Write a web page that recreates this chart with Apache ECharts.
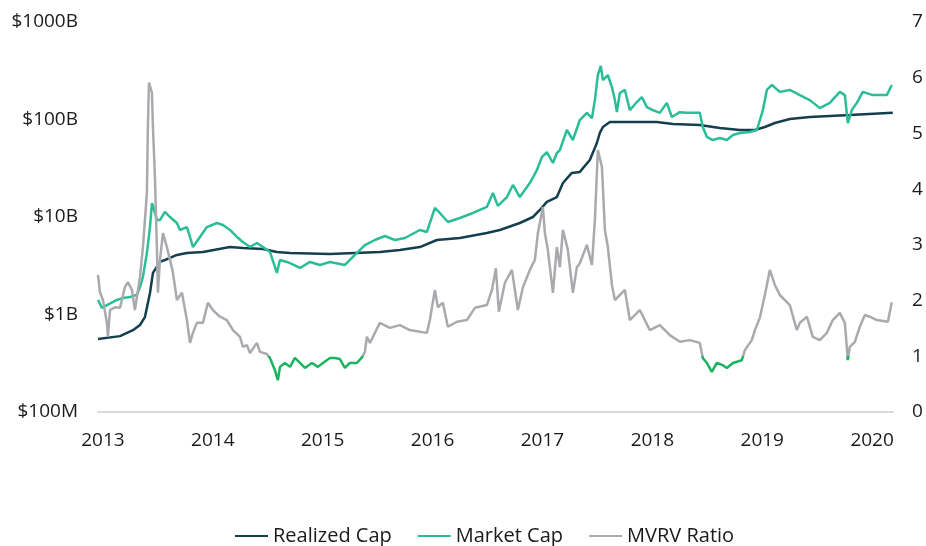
<!DOCTYPE html>
<html>
<head>
<meta charset="utf-8">
<script src="https://cdn.jsdelivr.net/npm/echarts@6/dist/echarts.min.js"></script>
<style>
  html, body { margin: 0; padding: 0; background: #fff; }
  #chart { width: 926px; height: 546px; }
</style>
</head>
<body>
<div id="chart"></div>
<script>
// [fractional year, $ billions]
var realizedCap = [
  [2012.955, 0.56], [2013.155, 0.60], [2013.273, 0.69], [2013.337, 0.78], [2013.382, 0.94],
  [2013.428, 1.66], [2013.455, 2.67], [2013.519, 3.46], [2013.61, 3.80], [2013.673, 4.08],
  [2013.764, 4.27], [2013.91, 4.38], [2014.156, 4.92], [2014.274, 4.81], [2014.456, 4.70],
  [2014.583, 4.38], [2014.702, 4.27], [2015.066, 4.18], [2015.52, 4.38], [2015.702, 4.59],
  [2015.884, 4.92], [2016.039, 5.81], [2016.248, 6.09], [2016.494, 6.86], [2016.612, 7.36],
  [2016.794, 8.68], [2016.913, 10.0], [2016.976, 11.8], [2017.04, 14.3], [2017.131, 16.0],
  [2017.186, 22.3], [2017.267, 28.3], [2017.34, 29.0], [2017.431, 38.4], [2017.495, 57.4],
  [2017.522, 72.8], [2017.55, 83.8], [2017.613, 94.3], [2018.041, 94.3], [2018.187, 89.9],
  [2018.432, 87.9], [2018.614, 81.8], [2018.796, 78.0], [2018.933, 78.0], [2019.024, 83.8],
  [2019.115, 92.0], [2019.251, 101], [2019.433, 106], [2019.797, 111], [2020.188, 117]
];

var marketCap = [
  [2012.955, 1.41], [2012.991, 1.17], [2013.036, 1.25], [2013.127, 1.41], [2013.182, 1.48],
  [2013.246, 1.51], [2013.309, 1.59], [2013.337, 1.91], [2013.364, 2.43], [2013.4, 4.27],
  [2013.428, 7.89], [2013.446, 13.9], [2013.455, 13.0], [2013.491, 9.31], [2013.519, 9.31],
  [2013.564, 11.3], [2013.61, 10.0], [2013.673, 8.68], [2013.701, 7.36], [2013.764, 7.89],
  [2013.792, 6.24], [2013.819, 4.92], [2013.883, 6.24], [2013.946, 7.89], [2014.037, 8.68],
  [2014.092, 8.28], [2014.156, 7.36], [2014.219, 6.24], [2014.274, 5.54], [2014.338, 4.92],
  [2014.401, 5.41], [2014.456, 4.92], [2014.52, 4.38], [2014.583, 2.67], [2014.611, 3.62],
  [2014.674, 3.46], [2014.702, 3.37], [2014.793, 3.0], [2014.884, 3.46], [2014.975, 3.22],
  [2015.066, 3.46], [2015.202, 3.22], [2015.293, 4.08], [2015.384, 5.16], [2015.475, 5.81],
  [2015.566, 6.38], [2015.657, 5.81], [2015.748, 6.09], [2015.884, 7.36], [2015.948, 7.02],
  [2016.021, 12.4], [2016.066, 11.0], [2016.139, 8.89], [2016.248, 9.77], [2016.367, 11.0],
  [2016.494, 12.7], [2016.549, 17.6], [2016.594, 13.0], [2016.676, 16.0], [2016.731, 21.3],
  [2016.794, 16.0], [2016.885, 22.3], [2016.949, 30.3], [2016.995, 41.2], [2017.04, 46.4],
  [2017.095, 35.8], [2017.131, 45.3], [2017.158, 48.6], [2017.222, 78.0], [2017.277, 61.6],
  [2017.34, 98.8], [2017.404, 117], [2017.45, 103], [2017.477, 158], [2017.504, 286],
  [2017.531, 354], [2017.55, 254], [2017.595, 286], [2017.632, 215], [2017.659, 158],
  [2017.677, 119], [2017.704, 187], [2017.75, 201], [2017.795, 125], [2017.859, 151],
  [2017.904, 170], [2017.95, 134], [2018.005, 125], [2018.068, 117], [2018.132, 148],
  [2018.177, 106], [2018.25, 119], [2018.314, 117], [2018.432, 117], [2018.459, 83.8],
  [2018.496, 66.2], [2018.55, 61.6], [2018.614, 64.6], [2018.678, 61.6], [2018.733, 69.4],
  [2018.796, 72.8], [2018.887, 74.5], [2018.951, 78.0], [2019.006, 125], [2019.042, 201],
  [2019.088, 226], [2019.16, 192], [2019.251, 201], [2019.342, 178], [2019.433, 158],
  [2019.524, 131], [2019.615, 148], [2019.706, 192], [2019.752, 178], [2019.779, 92.0],
  [2019.815, 125], [2019.861, 148], [2019.915, 192], [2020.006, 178], [2020.134, 178],
  [2020.179, 226]
];

// [fractional year, ratio]
var mvrvRatio = [
  [2012.955, 2.46], [2012.973, 2.15], [2013.0, 2.01], [2013.036, 1.60], [2013.045, 1.35],
  [2013.064, 1.83], [2013.109, 1.88], [2013.155, 1.87], [2013.2, 2.24], [2013.227, 2.33],
  [2013.264, 2.19], [2013.291, 1.83], [2013.337, 2.42], [2013.364, 2.96], [2013.4, 3.93],
  [2013.409, 5.12], [2013.419, 5.91], [2013.446, 5.73], [2013.455, 5.12], [2013.473, 4.22],
  [2013.491, 2.96], [2013.5, 2.14], [2013.519, 2.73], [2013.546, 3.21], [2013.582, 2.96],
  [2013.61, 2.73], [2013.637, 2.50], [2013.673, 2.01], [2013.719, 2.14], [2013.764, 1.65],
  [2013.792, 1.24], [2013.819, 1.42], [2013.855, 1.60], [2013.91, 1.60], [2013.955, 1.96],
  [2014.001, 1.83], [2014.065, 1.71], [2014.128, 1.65], [2014.183, 1.47], [2014.247, 1.35],
  [2014.274, 1.17], [2014.31, 1.20], [2014.338, 1.06], [2014.401, 1.24], [2014.429, 1.08],
  [2014.492, 1.04], [2014.52, 0.97], [2014.538, 0.96], [2014.565, 0.75], [2014.592, 0.57],
  [2014.611, 0.81], [2014.656, 0.88], [2014.702, 0.81], [2014.747, 0.97], [2014.793, 0.88],
  [2014.838, 0.79], [2014.902, 0.88], [2014.956, 0.81], [2015.002, 0.88], [2015.066, 0.97],
  [2015.111, 0.97], [2015.157, 0.95], [2015.202, 0.79], [2015.247, 0.88], [2015.311, 0.88],
  [2015.357, 0.98], [2015.384, 1.08], [2015.402, 1.35], [2015.43, 1.24], [2015.475, 1.42],
  [2015.52, 1.60], [2015.611, 1.51], [2015.702, 1.56], [2015.793, 1.47], [2015.884, 1.44],
  [2015.948, 1.42], [2015.975, 1.65], [2016.021, 2.19], [2016.048, 1.88], [2016.094, 1.96],
  [2016.139, 1.53], [2016.221, 1.62], [2016.312, 1.65], [2016.385, 1.87], [2016.494, 1.92],
  [2016.54, 2.19], [2016.576, 2.58], [2016.603, 1.80], [2016.658, 2.32], [2016.722, 2.55],
  [2016.776, 1.83], [2016.822, 2.24], [2016.885, 2.55], [2016.931, 2.73], [2016.958, 3.21],
  [2017.004, 3.68], [2017.022, 3.21], [2017.049, 2.91], [2017.095, 2.14], [2017.131, 2.96],
  [2017.158, 2.60], [2017.186, 3.27], [2017.231, 2.91], [2017.277, 2.14], [2017.313, 2.60],
  [2017.34, 2.67], [2017.404, 3.0], [2017.45, 2.64], [2017.477, 3.45], [2017.504, 4.70],
  [2017.541, 4.40], [2017.568, 3.27], [2017.595, 2.96], [2017.632, 2.28], [2017.659, 2.01],
  [2017.704, 2.10], [2017.75, 2.19], [2017.795, 1.65], [2017.886, 1.83], [2017.977, 1.47],
  [2018.068, 1.56], [2018.159, 1.38], [2018.25, 1.26], [2018.341, 1.29], [2018.432, 1.24],
  [2018.459, 0.97], [2018.496, 0.88], [2018.541, 0.72], [2018.587, 0.88], [2018.641, 0.84],
  [2018.678, 0.79], [2018.733, 0.88], [2018.814, 0.93], [2018.842, 1.11], [2018.905, 1.29],
  [2018.933, 1.47], [2018.978, 1.69], [2019.024, 2.10], [2019.069, 2.55], [2019.115, 2.28],
  [2019.16, 2.10], [2019.251, 1.92], [2019.315, 1.47], [2019.342, 1.60], [2019.406, 1.71],
  [2019.46, 1.35], [2019.524, 1.29], [2019.588, 1.42], [2019.642, 1.65], [2019.706, 1.78],
  [2019.752, 1.60], [2019.779, 0.93], [2019.797, 1.17], [2019.843, 1.26], [2019.888, 1.53],
  [2019.934, 1.74], [2019.979, 1.71], [2020.043, 1.65], [2020.143, 1.62], [2020.179, 1.97]
];

var seriesNames = ['Realized Cap', 'Market Cap', 'MVRV Ratio'];
var seriesColors = ['#143f4e', '#2bbd98', '#a9aaae'];
var belowOneColor = '#19b45e';

var font = 'Open Sans';
var myChart = echarts.init(document.getElementById('chart'));
myChart.setOption({
  animation: false,
  textStyle: { fontFamily: font },
  grid: { left: 98, right: 33, top: 22, bottom: 134 },
  legend: {
    left: 230,
    top: 521,
    itemWidth: 33,
    itemHeight: 2,
    itemGap: 26,
    icon: 'rect',
    textStyle: { fontSize: 20, color: '#1a1a1a', fontFamily: font },
    data: seriesNames
  },
  // MVRV below 1 is drawn green; finite bounds so the gradient gets real stops
  visualMap: {
    show: false,
    type: 'piecewise',
    seriesIndex: 2,
    dimension: 1,
    pieces: [
      { gte: -10, lt: 1, color: belowOneColor },
      { gte: 1, lte: 100, color: seriesColors[2] }
    ]
  },
  xAxis: {
    type: 'value',
    min: 2012.955,
    max: 2020.19,
    splitNumber: 7,
    splitLine: { show: false },
    axisTick: { show: false },
    axisLine: { lineStyle: { color: '#dadada', width: 2 } },
    axisLabel: {
      margin: 19,
      fontSize: 19,
      color: '#1a1a1a',
      showMinLabel: false,
      showMaxLabel: false,
      formatter: function (v) {
        return Math.abs(v - Math.round(v)) < 1e-6 ? String(Math.round(v)) : '';
      }
    }
  },
  yAxis: [
    {
      type: 'log',
      logBase: 10,
      min: 0.1,
      max: 1000,
      splitLine: { show: false },
      axisLine: { show: false },
      axisTick: { show: false },
      axisLabel: {
        margin: 20,
        fontSize: 19,
        color: '#1a1a1a',
        formatter: function (v) {
          return v >= 1 ? '$' + Math.round(v) + 'B' : '$' + Math.round(v * 1000) + 'M';
        }
      }
    },
    {
      type: 'value',
      min: 0,
      max: 7,
      interval: 1,
      splitLine: { show: false },
      axisLine: { show: false },
      axisTick: { show: false },
      axisLabel: { margin: 19, fontSize: 19, color: '#1a1a1a' }
    }
  ],
  series: [
    {
      name: seriesNames[0],
      type: 'line',
      yAxisIndex: 0,
      showSymbol: false,
      data: realizedCap,
      itemStyle: { color: seriesColors[0] },
      lineStyle: { color: seriesColors[0], width: 2.5 }
    },
    {
      name: seriesNames[1],
      type: 'line',
      yAxisIndex: 0,
      showSymbol: false,
      data: marketCap,
      itemStyle: { color: seriesColors[1] },
      lineStyle: { color: seriesColors[1], width: 2.5 }
    },
    {
      name: seriesNames[2],
      type: 'line',
      yAxisIndex: 1,
      showSymbol: false,
      data: mvrvRatio,
      itemStyle: { color: seriesColors[2] },
      lineStyle: { width: 2.5 }
    }
  ]
});
</script>
</body>
</html>
